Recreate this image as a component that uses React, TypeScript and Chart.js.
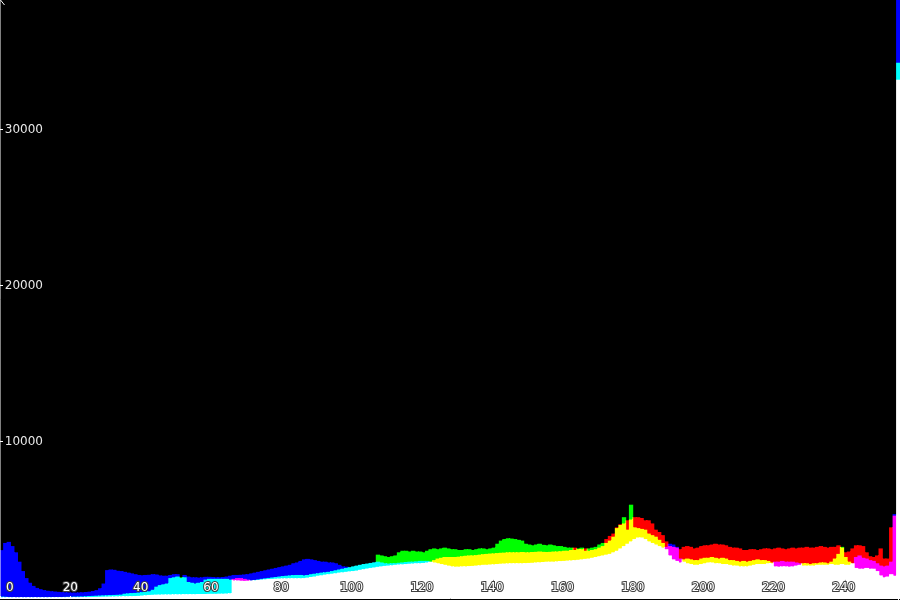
import { useEffect, useRef } from 'react';
import { Chart, registerables } from 'chart.js';

Chart.register(...registerables);

// Histogram bins 0..255 (bin i covers [i, i+1) on the x axis)
const BIN_COUNT = 256;
const X_MAX = 256;
const Y_MAX = 38300;
const X_TICKS = [0, 20, 40, 60, 80, 100, 120, 140, 160, 180, 200, 220, 240];
const Y_TICKS = [10000, 20000, 30000];

const RED_VALUES = [
  20, 20, 20, 20, 20, 20, 20, 20, 20, 20,
  20, 20, 20, 20, 20, 25, 25, 25, 25, 30,
  30, 30, 30, 35, 35, 40, 40, 45, 50, 55,
  60, 65, 70, 75, 80, 85, 90, 95, 100, 110,
  130, 150, 170,
  180, 190, 190, 200, 200, 200, 210, 210, 210, 220,
  220, 220, 220, 230, 230, 230, 240, 240, 240, 250,
  250, 260, 280,
  1200, 1250, 1250, 1200, 1150,
  1100, 1110, 1130, 1150, 1170, 1190, 1200, 1210, 1220, 1230,
  1230, 1240, 1240, 1240, 1240,
  1250, 1280, 1320, 1350, 1400, 1430, 1470, 1500, 1530, 1560,
  1600, 1620, 1650, 1680, 1700, 1730, 1780, 1820, 1860, 1900,
  1930, 1970,
  2000, 2030, 2050, 2070, 2100, 2120, 2130, 2150, 2170, 2180,
  2200, 2200, 2220, 2250, 2300,
  2400, 2500, 2550, 2600, 2600, 2600,
  2600, 2620, 2650, 2680, 2700, 2700, 2720, 2750, 2780, 2800,
  2820, 2830, 2850, 2870, 2880, 2900, 2900, 2900, 2900, 2920,
  2900, 2900, 2920, 2930, 2950, 2930, 2920, 2930, 2950, 2950,
  2970, 3000, 3000, 3050, 3200, 3100, 3100, 3150, 3000, 3050,
  3100, 3200,
  3300, 3750, 3950, 4100, 4500, 4700, 4750, 4950, 5000, 5150,
  5150, 5100, 4950, 4950, 4750, 4350, 4200, 4000, 3600, 3300,
  3250, 3200,
  3100, 3250, 3300, 3250, 3150, 3200, 3300, 3350, 3350, 3400,
  3450, 3400, 3400, 3350, 3250, 3200, 3200, 3150, 3050, 3050,
  3100,
  3100, 3050, 3100, 3150, 3150, 3100,
  3150, 3200, 3150, 3100, 3150, 3200, 3150, 3200,
  3200, 3250, 3200, 3200, 3250, 3300, 3250, 3200, 3250, 3250,
  3350, 3200, 2900, 2950, 3150, 3350, 3350, 3300, 2900, 2650,
  2600, 2700, 3150, 2500, 2500, 4500, 5250, 33170,
];

const GREEN_VALUES = [
  60, 50, 40, 35, 30, 30, 30, 30, 30, 30,
  30, 30, 30, 30, 35, 35, 40, 40, 45, 50,
  55, 60, 65, 70, 80, 100, 110, 120, 130, 140,
  150, 160, 170, 180, 190, 250, 270, 290, 300, 320,
  350, 380, 400,
  500, 700, 800, 850, 900, 1250, 1300, 1350, 1300, 1300,
  1000, 950, 900, 950, 1000, 1150, 1200, 1200, 1200, 1200,
  1200, 1200, 1150,
  1100, 1100, 1080, 1070, 1080, 1100, 1130, 1160, 1200, 1230,
  1260, 1290, 1320, 1350, 1380, 1400, 1420, 1440, 1450, 1450,
  1420, 1450, 1500, 1530, 1560, 1600, 1620, 1650, 1700, 1750,
  1800, 1850, 1900, 1950,
  2000, 2050, 2100, 2150, 2180, 2220, 2260, 2750,
  2700, 2650, 2600, 2650, 2700, 2900, 3000, 3000, 2950, 3000,
  2950, 2950, 2900, 3000, 3100, 3150, 3100, 3150, 3200, 3150,
  3100,
  3100, 3050, 3050, 3100, 3100, 3050, 3100, 3150, 3150, 3100,
  3150, 3200, 3450, 3650, 3750, 3800, 3780, 3750, 3700, 3650,
  3450, 3400, 3350, 3400, 3450, 3380, 3350, 3400, 3350, 3300,
  3300, 3250, 3200, 3200, 3050, 3150, 3200, 3000, 3150, 3200,
  3250, 3400,
  3500, 3500, 3650, 3900, 4450, 4650, 5150, 4350, 5950, 4500,
  4450, 4400, 4350, 4100, 4000, 3900, 3700, 3500, 3100, 2700,
  2450, 2350,
  2250, 2450, 2500, 2450, 2400, 2400, 2500, 2550, 2550, 2600,
  2550, 2500, 2550, 2500, 2400, 2400, 2350, 2300, 2350, 2300,
  2350,
  2400, 2450, 2400, 2400, 2350, 2250,
  2000, 1980, 2000, 2000, 1980, 2000, 2050, 2100,
  2200, 2200, 2150, 2200, 2200, 2250, 2250, 2200, 2300, 2500,
  2800, 3250, 2600, 2300, 2200, 1900, 1850, 1850, 1900, 1850,
  1850, 1700, 1420, 1300, 1350, 1500, 1400, 34260,
];

const BLUE_VALUES = [
  3040, 3500, 3570, 3300, 2900, 2300, 1700, 1250, 950, 750,
  620, 540, 480, 440, 410, 390, 370, 350, 340, 330,
  320, 320, 330, 340, 360, 380, 420, 480, 600, 900,
  1760, 1800, 1780, 1720, 1700, 1650, 1600, 1550, 1500, 1450,
  1430, 1450, 1460,
  1500, 1480, 1420, 1400, 1400, 1450, 1500, 1500, 1250, 1450,
  1350, 1300, 1300, 1280, 1300, 1330, 1330, 1320, 1300, 1300,
  1320, 1350, 1400, 1450, 1450, 1460, 1480, 1500, 1550, 1600,
  1650, 1700, 1750, 1800, 1850, 1900, 1950, 2000, 2050, 2100,
  2200, 2250, 2350,
  2450, 2480, 2450, 2400, 2350, 2300, 2300, 2250, 2250, 2200,
  2100, 2000, 1980, 1950, 2000, 2050, 2100, 2150, 2180, 2220,
  2260, 2300, 2250, 2200, 2180, 2200, 2200, 2230, 2250, 2280,
  2300, 2300, 2320, 2350, 2350, 2350, 2300, 2250, 2200, 2150,
  2100, 2050, 2000,
  1980, 1980, 2000, 2000, 2020, 2030, 2050, 2070, 2100, 2100,
  2120, 2130, 2150, 2170, 2180, 2190, 2200, 2200, 2200, 2200,
  2210, 2220, 2230, 2250, 2260, 2280, 2300, 2300, 2300, 2320,
  2340, 2350, 2370, 2380, 2400, 2420, 2450, 2480, 2500, 2550,
  2600, 2650,
  2700, 2750, 2800, 2900, 3000, 3150, 3300, 3450, 3600, 3750,
  3850, 3850, 3750, 3600, 3500, 3400, 3300, 3200, 3250, 3450,
  3400, 3250,
  2500, 2300, 2200, 2150, 2100, 2100, 2150, 2200, 2250, 2250,
  2200, 2200, 2150, 2150, 2100, 2050, 2050, 2000, 2000, 2000,
  2050,
  2100, 2150, 2150, 2150, 2200, 2200,
  2300, 2300, 2350, 2300, 2300, 2300, 2250, 2200,
  2050, 2050, 2050, 2050, 2100, 2100, 2100, 2100, 2150, 2100,
  2100, 2150, 2100, 2100, 2200, 2600, 2700, 2550, 2500, 2400,
  2350, 2200, 2050, 2000, 2050, 2300, 5350, 38300,
];

const BIN_INDEX = Array.from({ length: BIN_COUNT }, (_, i) => i);

const FONT = { family: 'DejaVu Sans', size: 12 };

export default function App() {
  const ref = useRef<HTMLCanvasElement>(null);

  useEffect(() => {
    document.body.style.margin = '0';
    document.body.style.background = '#000';
    const canvas = ref.current;
    if (!canvas) return;

    const toPoints = (vals: number[]) =>
      BIN_INDEX.map((i) => ({ x: i + 0.5, y: vals[i] }));

    const blendPlugin = {
      id: 'additiveBlend',
      beforeDraw(chart: any) {
        const { ctx, width, height } = chart;
        ctx.save();
        ctx.fillStyle = '#000';
        ctx.fillRect(0, 0, width, height);
        ctx.restore();
      },
      beforeDatasetsDraw(chart: any) {
        chart.ctx.save();
        chart.ctx.globalCompositeOperation = 'lighter';
      },
      afterDatasetsDraw(chart: any) {
        chart.ctx.restore();
      },
      afterDraw(chart: any) {
        const { ctx, chartArea: a } = chart;
        ctx.save();
        ctx.strokeStyle = '#fff';
        ctx.lineWidth = 1;
        ctx.beginPath();
        ctx.moveTo(a.left + 0.5, a.top);
        ctx.lineTo(a.left + 4.5, a.top + 5);
        ctx.stroke();
        ctx.beginPath();
        ctx.moveTo(a.right - 5, a.bottom - 4);
        ctx.lineTo(a.right - 0.5, a.bottom + 0.5);
        ctx.lineTo(a.right - 5, a.bottom + 5);
        ctx.stroke();
        ctx.restore();
      },
    };

    const noLabelClip = (s: any) => {
      s._computeLabelArea = () => undefined;
    };

    const chart = new Chart(canvas, {
      type: 'bar',
      data: {
        datasets: [
          { label: 'Red', data: toPoints(RED_VALUES), backgroundColor: 'rgb(255,0,0)' },
          { label: 'Green', data: toPoints(GREEN_VALUES), backgroundColor: 'rgb(0,255,0)' },
          { label: 'Blue', data: toPoints(BLUE_VALUES), backgroundColor: 'rgb(0,0,255)' },
        ] as any,
      },
      options: {
        responsive: false,
        animation: false,
        devicePixelRatio: 1,
        layout: { padding: { left: 0, right: 0, top: 0, bottom: 2 } },
        datasets: {
          bar: {
            barPercentage: 1,
            categoryPercentage: 1,
            grouped: false,
            borderWidth: 0,
            inflateAmount: 0.4,
          },
        } as any,
        plugins: { legend: { display: false }, tooltip: { enabled: false } },
        scales: {
          x: {
            type: 'linear',
            min: 0,
            max: X_MAX,
            offset: false,
            afterFit: (s: any) => {
              s.height = 0;
              s.paddingLeft = 0;
              s.paddingRight = 0;
              noLabelClip(s);
            },
            grid: {
              display: true,
              drawOnChartArea: false,
              drawTicks: true,
              tickLength: -2,
              color: '#ffffff',
              offset: false,
              z: 1,
            },
            border: { display: true, color: '#ffffff', z: 1 },
            ticks: {
              stepSize: 20,
              autoSkip: false,
              maxRotation: 0,
              minRotation: 0,
              align: 'inner',
              padding: -15,
              z: 1,
              color: '#ffffff',
              textStrokeColor: '#404040',
              textStrokeWidth: 2,
              font: FONT,
              callback: (v: any) =>
                X_TICKS.includes(v) ? (v === 0 ? '\u2002' + v : String(v)) : '',
            },
          } as any,
          y: {
            type: 'linear',
            min: 0,
            max: Y_MAX,
            afterBuildTicks: (s: any) => {
              s.ticks = Y_TICKS.map((value) => ({ value }));
            },
            afterFit: (s: any) => {
              s.width = 0;
              s.paddingTop = 0;
              s.paddingBottom = 0;
              noLabelClip(s);
            },
            grid: {
              display: true,
              drawOnChartArea: false,
              drawTicks: true,
              tickLength: -3,
              color: '#ffffff',
              z: 1,
            },
            border: { display: true, color: '#ffffff' },
            ticks: {
              padding: -40,
              autoSkip: false,
              z: 1,
              color: '#e8e8e8',
              font: FONT,
              callback: (v: any) => String(v),
            },
          } as any,
        },
      },
      plugins: [blendPlugin],
    });

    return () => chart.destroy();
  }, []);

  return <canvas ref={ref} width={900} height={600} style={{ display: 'block' }} />;
}
